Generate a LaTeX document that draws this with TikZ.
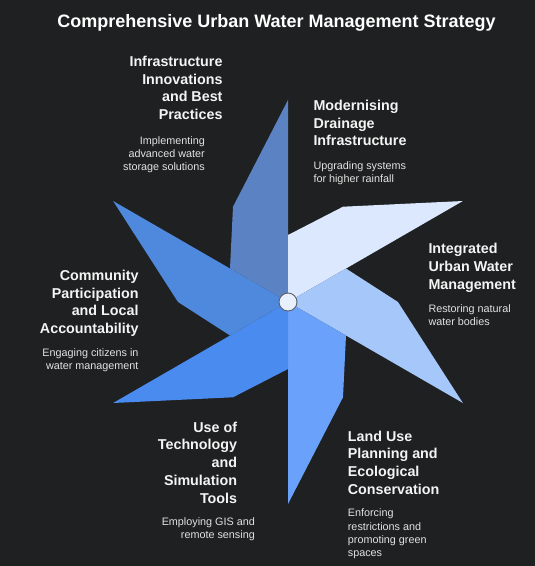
\documentclass[tikz,border=0pt]{standalone}
\usepackage{fontspec}
\setmainfont{Liberation Sans}
\definecolor{bg}{HTML}{1F2021}
\definecolor{bladeA}{HTML}{5B83C4}
\definecolor{bladeB}{HTML}{DBE8FD}
\definecolor{bladeC}{HTML}{A5C7FA}
\definecolor{bladeD}{HTML}{6AA2FB}
\definecolor{bladeE}{HTML}{4A8BF0}
\definecolor{bladeF}{HTML}{4F89DE}
\definecolor{hubfill}{HTML}{E8EFFD}
\definecolor{hubline}{HTML}{5A6068}
\definecolor{headtxt}{HTML}{F4F4F4}
\definecolor{desctxt}{HTML}{E2E2E2}
\tikzset{
  heading/.style={inner sep=0pt, text=headtxt, font=\bfseries\fontsize{14.3}{17.7}\selectfont},
  desc/.style={inner sep=0pt, text=desctxt, font=\fontsize{10.8}{13.3}\selectfont},
  hub/.style={circle, fill=hubfill, draw=hubline, line width=0.9pt, minimum size=18pt, inner sep=0pt}
}
\begin{document}
\begin{tikzpicture}[x=1pt,y=-1pt]
\fill[bg] (0,0) rectangle (535,566);
\useasboundingbox (0,0) rectangle (535,566);
\coordinate (C) at (288,302);
% blades: center -> inner -> outer -> tip
\fill[bladeA] (C) -- (230,268.5) -- (233,206.7) -- (288,100) -- cycle;
\fill[bladeB] (C) -- (288,235) -- (343,206.7) -- (462.9,201) -- cycle;
\fill[bladeC] (C) -- (346,268.5) -- (398,302) -- (462.9,403) -- cycle;
\fill[bladeD] (C) -- (346,335.5) -- (343,397.3) -- (288,504) -- cycle;
\fill[bladeE] (C) -- (288,369) -- (233,397.3) -- (113.1,403) -- cycle;
\fill[bladeF] (C) -- (230,335.5) -- (178,302) -- (113.1,201) -- cycle;
\node[hub] (hub) at (C) {};
% title
\node[inner sep=0pt, text=white, font=\bfseries\fontsize{18}{22}\selectfont, anchor=base] (title) at (276.5,27) {Comprehensive Urban Water Management Strategy};
% headings and descriptions
\node[heading, align=right, anchor=north east] (h1) at (222.7,56) {Infrastructure\\Innovations\\and Best\\Practices};
\node[desc, align=right, anchor=north east] (d1) at (205,136) {Implementing\\advanced water\\storage solutions};
\node[heading, align=left, anchor=north west] (h2) at (313.3,100) {Modernising\\Drainage\\Infrastructure};
\node[desc, align=left, anchor=north west] (d2) at (313.3,161) {Upgrading systems\\for higher rainfall};
\node[heading, align=left, anchor=north west] (h3) at (428.3,243.3) {Integrated\\Urban Water\\Management};
\node[desc, align=left, anchor=north west] (d3) at (428.3,304.3) {Restoring natural\\water bodies};
\node[heading, align=right, anchor=north east] (h4) at (138.7,270) {Community\\Participation\\and Local\\Accountability};
\node[desc, align=right, anchor=north east] (d4) at (138.7,348.3) {Engaging citizens in\\water management};
\node[heading, align=right, anchor=north east] (h5) at (237.3,421.7) {Use of\\Technology\\and\\Simulation\\Tools};
\node[desc, align=right, anchor=north east] (d5) at (255,517.3) {Employing GIS and\\remote sensing};
\node[heading, align=left, anchor=north west] (h6) at (347.7,430.7) {Land Use\\Planning and\\Ecological\\Conservation};
\node[desc, align=left, anchor=north west] (d6) at (347.7,508.7) {Enforcing\\restrictions and\\promoting green\\spaces};
\end{tikzpicture}
\end{document}
